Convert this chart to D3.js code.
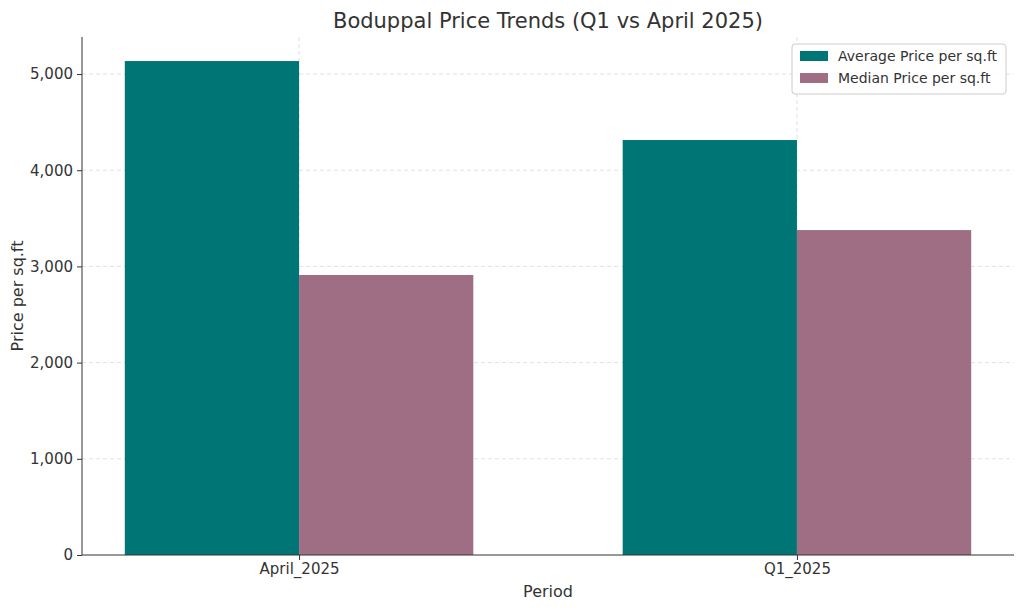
<!DOCTYPE html>
<html>
<head>
<meta charset="utf-8">
<script src="https://cdn.jsdelivr.net/npm/d3@7"></script>
<style>
  body { margin: 0; background: #fff; }
  text { font-family: "DejaVu Sans", sans-serif; }
</style>
</head>
<body>
<div id="chart"></div>
<script>
const periods = ['April_2025', 'Q1_2025'];
const seriesNames = ['Average Price per sq.ft', 'Median Price per sq.ft'];
const avgPrice = [5135, 4314];
const medianPrice = [2911, 3378];
const yTicks = [0, 1000, 2000, 3000, 4000, 5000];
const colors = ['#007575', '#a06e84'];

const width = 1024, height = 611;
const m = { top: 37, right: 10, bottom: 56, left: 82 };

const svg = d3.select('#chart').append('svg')
  .attr('width', width).attr('height', height);

const x = d3.scaleLinear().domain([-0.436, 1.436]).range([m.left, width - m.right]);
const y = d3.scaleLinear().domain([0, 5385]).range([height - m.bottom, m.top]);
const barW = 0.35;

// grid
const grid = svg.append('g').attr('stroke', '#d9d9d9').attr('stroke-dasharray', '4,3').attr('stroke-width', 0.8);
yTicks.slice(1).forEach(t => grid.append('line')
  .attr('x1', m.left).attr('x2', width - m.right).attr('y1', y(t)).attr('y2', y(t)));
periods.forEach((p, i) => grid.append('line')
  .attr('x1', x(i)).attr('x2', x(i)).attr('y1', m.top).attr('y2', height - m.bottom));

// bars
[avgPrice, medianPrice].forEach((vals, s) => {
  svg.append('g').selectAll('rect').data(vals).join('rect')
    .attr('x', (d, i) => x(i + (s === 0 ? -barW : 0)))
    .attr('width', x(barW) - x(0))
    .attr('y', d => y(d))
    .attr('height', d => y(0) - y(d))
    .attr('fill', colors[s]);
});

// axes
const yAxis = svg.append('g').attr('transform', `translate(${m.left},0)`)
  .call(d3.axisLeft(y).tickValues(yTicks).tickSize(5).tickPadding(4));
const xAxis = svg.append('g').attr('transform', `translate(0,${height - m.bottom})`)
  .call(d3.axisBottom(x).tickValues([0, 1]).tickFormat(i => periods[i]).tickSize(5).tickPadding(3));
[yAxis, xAxis].forEach(a => {
  a.selectAll('text').attr('font-size', 15).attr('fill', '#333').style('font-family', 'DejaVu Sans');
  a.select('.domain').attr('stroke', '#333');
  a.selectAll('.tick line').attr('stroke', '#333');
});
xAxis.select('.domain').attr('d', `M${m.left},0H${width - m.right}`);
yAxis.select('.domain').attr('d', `M0,${m.top}V${height - m.bottom}`);

// titles
svg.append('text').attr('x', (m.left + width - m.right) / 2).attr('y', 28)
  .attr('text-anchor', 'middle').attr('font-size', 21).attr('fill', '#333')
  .text('Boduppal Price Trends (Q1 vs April 2025)');
svg.append('text').attr('x', (m.left + width - m.right) / 2).attr('y', 597)
  .attr('text-anchor', 'middle').attr('font-size', 16).attr('fill', '#333').text('Period');
svg.append('text').attr('transform', 'translate(23,296) rotate(-90)')
  .attr('text-anchor', 'middle').attr('font-size', 16).attr('fill', '#333').text('Price per sq.ft');

// legend
const lg = svg.append('g').attr('transform', 'translate(792,44)');
lg.append('rect').attr('width', 214).attr('height', 50).attr('rx', 3)
  .attr('fill', '#fff').attr('fill-opacity', 0.85).attr('stroke', '#ccc');
seriesNames.forEach((n, i) => {
  lg.append('rect').attr('x', 8).attr('y', 7 + i * 22).attr('width', 28).attr('height', 10).attr('fill', colors[i]);
  lg.append('text').attr('x', 46).attr('y', 17 + i * 22).attr('font-size', 14).attr('fill', '#333').text(n);
});
</script>
</body>
</html>
